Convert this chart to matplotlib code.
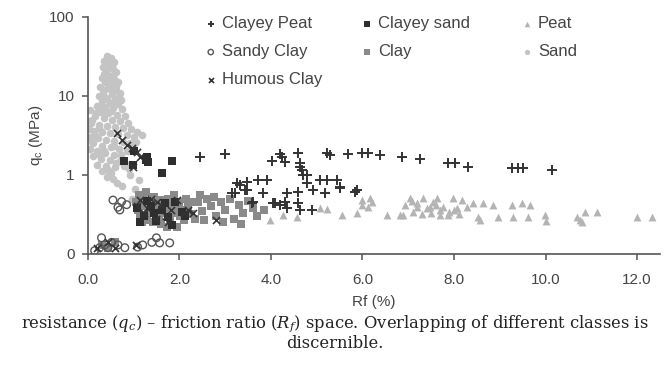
import numpy as np
import matplotlib
matplotlib.use("Agg")
import matplotlib.pyplot as plt

plt.rcParams['font.family'] = ['Liberation Sans', 'DejaVu Sans']
plt.rcParams['mathtext.fontset'] = 'custom'
plt.rcParams['mathtext.rm'] = 'DejaVu Serif'
plt.rcParams['mathtext.it'] = 'DejaVu Serif:italic'

# ---- data (Rf in %, qc in MPa) ----
sand_rf = [0.42, 0.5, 0.36, 0.58, 0.45, 0.33, 0.55, 0.62, 0.4, 0.48, 0.3, 0.58, 0.66, 0.38, 0.5,
           0.27, 0.44, 0.62, 0.7, 0.33, 0.52, 0.25, 0.4, 0.6, 0.73, 0.3, 0.48, 0.66,
           0.2, 0.38, 0.55, 0.75, 0.05, 0.28, 0.45, 0.64, 0.82, 0.15, 0.35, 0.52, 0.7, 0.88,
           0.08, 0.25, 0.42, 0.6,
           0.78, 0.95, 1.08, 1.18, 0.02, 0.14, 0.3, 0.48, 0.66, 0.85, 1.0, 0.05, 0.22, 0.4,
           0.58, 0.76, 0.92, 0.12, 0.3, 0.5, 0.68, 0.05, 0.2, 0.85,
           0.38, 0.58, 0.12, 0.28, 0.48, 0.7, 0.2, 0.4, 0.6, 0.8, 0.32, 0.5, 0.9, 0.42,
           0.55, 0.63, 0.92, 1.03, 0.96, 0.87, 0.75, 1.12,
           0.46, 0.53, 0.4, 0.35, 0.56, 0.45, 0.62, 0.36, 0.52, 0.68, 0.43, 0.57, 0.32, 0.5,
           0.18, 0.1, 0.03, 0.24, 0.16, 0.09, 0.35, 0.58, 0.72, 1.05, 0.98, 0.62, 0.44, 0.26]
sand_qc = [32, 30, 28, 27, 25, 23, 22, 20, 20, 18, 17, 16.5, 15, 15, 14,
           13, 12.5, 12, 11, 11, 10.5, 10, 9.5, 9.2, 8.8, 8.5, 8.2, 8,
           7.5, 7.3, 7, 6.8, 6.6, 6.3, 6, 5.8, 5.6, 5.5, 5.2, 5, 4.8, 4.6,
           4.5, 4.3, 4.2, 4.0,
           3.9, 3.8, 3.5, 3.2, 3.8, 3.6, 3.5, 3.4, 3.3, 3.2, 3.0, 3.0, 2.9, 2.8,
           2.7, 2.6, 2.5, 2.5, 2.35, 2.25, 2.15, 2.1, 2.0, 2.0,
           1.9, 1.8, 1.75, 1.6, 1.55, 1.5, 1.35, 1.3, 1.25, 1.3, 1.12, 1.05, 1.2, 0.95,
           0.9, 0.8, 1.0, 0.66, 0.5, 1.35, 0.72, 0.85,
           29, 24, 22, 19, 18, 16, 13.5, 12, 11.5, 9.8, 9, 7.8, 7.0, 6.5,
           6.0, 5.0, 4.8, 3.9, 3.2, 2.6, 2.0, 2.3, 1.8, 2.6, 2.3, 1.4, 1.15, 1.8]

peat_rf = [3.98, 4.26, 4.57, 5.07, 5.22, 5.55, 5.88, 5.99, 6.0, 6.12, 6.16, 6.22, 6.54, 6.82,
           6.89, 6.93, 7.04, 7.08, 7.19, 7.32, 7.41, 7.48, 7.55, 7.63, 7.7, 7.76, 7.87, 7.98,
           8.07, 8.17, 8.28, 8.42, 8.52, 8.57, 8.63, 8.85, 8.96, 9.27, 9.29, 9.49, 9.62, 9.66,
           9.99, 10.0, 10.69, 10.75, 10.8, 10.86, 11.13, 12.0, 12.33,
           7.1, 7.3, 7.5, 7.7, 7.9, 8.1, 7.2, 7.6, 8.0]
peat_qc = [0.27, 0.31, 0.29, 0.38, 0.37, 0.31, 0.33, 0.48, 0.42, 0.39, 0.51, 0.45, 0.31, 0.31,
           0.31, 0.42, 0.51, 0.47, 0.39, 0.51, 0.38, 0.39, 0.46, 0.51, 0.36, 0.39, 0.31, 0.51,
           0.38, 0.48, 0.39, 0.44, 0.29, 0.27, 0.44, 0.42, 0.29, 0.42, 0.29, 0.44, 0.29, 0.42,
           0.31, 0.26, 0.29, 0.27, 0.25, 0.34, 0.34, 0.29, 0.29,
           0.34, 0.32, 0.33, 0.31, 0.34, 0.32, 0.44, 0.42, 0.36]

clay_rf = [1.05, 1.1, 1.15, 1.2, 1.25, 1.3, 1.35, 1.4, 1.45, 1.5, 1.55, 1.6, 1.65, 1.7, 1.75,
           1.8, 1.85, 1.9, 1.95, 2.0, 2.05, 2.1, 2.15, 2.2, 2.25, 1.12, 1.28, 1.42, 1.58, 1.72,
           1.88, 2.02, 1.18, 1.35, 1.62, 1.78, 1.98, 2.3, 2.35,
           2.4, 2.5, 2.6, 2.7, 2.8, 2.9, 3.0, 3.1, 3.2, 3.3, 3.4, 3.5, 3.6, 3.7, 3.85,
           2.55, 2.95, 3.35, 2.45, 2.75,
           0.3, 0.45, 0.6]
clay_qc = [0.45, 0.36, 0.3, 0.5, 0.4, 0.27, 0.33, 0.45, 0.52, 0.38, 0.3, 0.24, 0.42, 0.35, 0.5,
           0.28, 0.4, 0.33, 0.22, 0.45, 0.36, 0.27, 0.5, 0.4, 0.32, 0.55, 0.6, 0.25, 0.48, 0.22,
           0.55, 0.3, 0.25, 0.42, 0.33, 0.43, 0.38, 0.45, 0.28,
           0.45, 0.35, 0.5, 0.4, 0.3, 0.45, 0.36, 0.5, 0.28, 0.42, 0.33, 0.47, 0.38, 0.3, 0.36,
           0.27, 0.25, 0.24, 0.55, 0.52,
           0.13, 0.12, 0.14]

clayey_sand_rf = [0.8, 0.98, 1.0, 1.3, 1.32, 1.28, 1.62, 1.85,
                  1.08, 1.22, 1.38, 1.5, 1.62, 1.75, 1.9, 2.05, 1.15, 1.45, 1.68, 1.85, 2.12, 1.3]
clayey_sand_qc = [1.5, 1.35, 2.0, 1.7, 1.45, 1.55, 1.06, 1.5,
                  0.38, 0.3, 0.41, 0.26, 0.36, 0.29, 0.45, 0.34, 0.25, 0.33, 0.44, 0.23, 0.3, 0.47]

sandy_clay_rf = [0.55, 0.66, 0.74, 0.7, 0.85, 1.2, 1.4, 1.57, 1.79, 1.5, 1.09,
                 0.3, 0.37, 0.52, 0.66, 0.44, 0.26, 0.15, 0.81]
sandy_clay_qc = [0.48, 0.39, 0.46, 0.36, 0.42, 0.13, 0.14, 0.138, 0.138, 0.16, 0.122,
                 0.16, 0.13, 0.14, 0.13, 0.12, 0.12, 0.11, 0.12]

humous_clay_rf = [0.63, 0.74, 0.85, 0.96, 1.07, 0.98, 1.15,
                  1.08, 1.22, 1.38, 1.48, 1.6, 1.7, 1.82, 1.95, 2.1, 1.3, 1.52, 1.75, 2.2, 1.15,
                  0.2, 0.45, 0.6, 1.05, 2.8, 2.3]
humous_clay_qc = [3.4, 2.8, 2.4, 2.2, 1.95, 1.26, 1.7,
                  0.4, 0.33, 0.5, 0.28, 0.42, 0.3, 0.36, 0.48, 0.33, 0.38, 0.45, 0.25, 0.36, 0.48,
                  0.12, 0.14, 0.12, 0.13, 0.27, 0.33]

clayey_peat_rf = [2.45, 2.99, 4.02, 4.2, 4.31, 4.59, 4.63, 4.68, 4.79, 5.22, 5.29, 5.68, 5.99,
                  6.12, 6.38, 6.86, 7.26, 7.87, 8.02, 8.31, 9.27, 9.4, 9.5, 10.14, 4.24,
                  3.48, 3.72, 3.91, 3.21, 3.32, 3.48, 3.83, 3.58, 4.04, 4.35, 4.2, 4.35, 4.59,
                  4.59, 4.63, 4.79, 4.9, 4.92, 5.07, 5.22, 5.44, 5.18, 5.51, 5.88, 4.7, 4.63,
                  3.26, 3.43, 3.15, 3.6, 4.09, 4.31, 5.5, 5.84]
clayey_peat_qc = [1.69, 1.84, 1.5, 1.84, 1.46, 1.9, 1.42, 1.16, 1.0, 1.9, 1.79, 1.84, 1.9,
                  1.9, 1.79, 1.69, 1.6, 1.42, 1.42, 1.26, 1.22, 1.22, 1.22, 1.16, 1.69,
                  0.82, 0.86, 0.86, 0.59, 0.75, 0.65, 0.59, 0.44, 0.44, 0.59, 0.42, 0.38, 0.61,
                  0.44, 0.36, 0.79, 0.36, 0.65, 0.86, 0.86, 0.86, 0.59, 0.68, 0.65, 1.0, 1.26,
                  0.79, 0.65, 0.59, 0.45, 0.44, 0.45, 0.71, 0.61]

x_ticks = [0, 2, 4, 6, 8, 10, 12]
x_labels = ['0.0', '2.0', '4.0', '6.0', '8.0', '10.0', '12.0']
y_ticks = [0.1, 1, 10, 100]
y_labels = ['0', '1', '10', '100']

fig = plt.figure(figsize=(6.7, 3.83), dpi=100)
ax = fig.add_axes([0.131, 0.337, 0.854, 0.619])

s_sand = ax.scatter(sand_rf, sand_qc, s=30, marker='o', color='#c4c4c4', linewidths=0, zorder=1, label='Sand')
s_peat = ax.scatter(peat_rf, peat_qc, s=32, marker='^', color='#b4b4b4', linewidths=0, zorder=2, label='Peat')
s_clay = ax.scatter(clay_rf, clay_qc, s=34, marker='s', color='#8a8a8a', linewidths=0, zorder=3, label='Clay')
s_csand = ax.scatter(clayey_sand_rf, clayey_sand_qc, s=36, marker='s', color='#2e2e2e', linewidths=0, zorder=4, label='Clayey sand')
s_sclay = ax.scatter(sandy_clay_rf, sandy_clay_qc, s=30, marker='o', facecolors='none', edgecolors='#555555', linewidths=1.0, zorder=5, label='Sandy Clay')
s_hclay = ax.scatter(humous_clay_rf, humous_clay_qc, s=26, marker='x', color='#333333', linewidths=1.2, zorder=6, label='Humous Clay')
s_cpeat = ax.scatter(clayey_peat_rf, clayey_peat_qc, s=50, marker='+', color='#333333', linewidths=1.4, zorder=7, label='Clayey Peat')

ax.set_yscale('log')
ax.set_ylim(0.1, 100)
ax.set_xlim(0, 12.5)
ax.set_xticks(x_ticks)
ax.set_xticklabels(x_labels)
ax.set_yticks(y_ticks)
ax.set_yticklabels(y_labels)
ax.yaxis.set_minor_locator(matplotlib.ticker.NullLocator())

for side in ['top', 'right']:
    ax.spines[side].set_visible(False)
for side in ['left', 'bottom']:
    ax.spines[side].set_color('#555555')
    ax.spines[side].set_linewidth(1.2)
ax.tick_params(axis='x', direction='out', length=4, width=1.1, color='#555555',
               pad=9.5, labelsize=11, labelcolor='#444444')
ax.tick_params(axis='y', direction='out', length=4.3, width=1.1, color='#555555',
               pad=5, labelsize=11, labelcolor='#444444')

ax.set_xlabel('Rf (%)', fontsize=11, color='#444444')
ax.set_ylabel(r'q$_\mathregular{c}$ (MPa)', fontsize=11, color='#444444')
ax.xaxis.set_label_coords(0.5, -0.175)
ax.yaxis.set_label_coords(-0.075, 0.5)

# legend: two blocks so the third column sits where the reference has it
handles_a = [s_cpeat, s_sclay, s_hclay, s_csand, s_clay]
handles_b = [s_peat, s_sand]
leg_a = ax.legend(handles=handles_a, labels=[h.get_label() for h in handles_a], ncol=2,
                  loc='upper left', bbox_to_anchor=(0.18, 1.065), frameon=False,
                  fontsize=12, handlelength=0.6, handletextpad=0.35,
                  columnspacing=2.4, labelspacing=0.78, markerscale=0.7)
ax.add_artist(leg_a)
leg_b = ax.legend(handles=handles_b, labels=[h.get_label() for h in handles_b], ncol=1,
                  loc='upper left', bbox_to_anchor=(0.733, 1.065), frameon=False,
                  fontsize=12, handlelength=0.6, handletextpad=0.35,
                  labelspacing=0.78, markerscale=0.7)
for lg in (leg_a, leg_b):
    for t in lg.get_texts():
        t.set_color('#444444')

fig.text(0.5, 1 - 324 / 383,
         r'resistance ($q_c$) – friction ratio ($R_f$) space. Overlapping of different classes is',
         ha='center', va='center', fontsize=11.8, family='DejaVu Serif', color='#222222')
fig.text(0.5, 1 - 344 / 383, 'discernible.', ha='center', va='center', fontsize=11.8,
         family='DejaVu Serif', color='#222222')

fig.savefig('out.png', dpi=100)
